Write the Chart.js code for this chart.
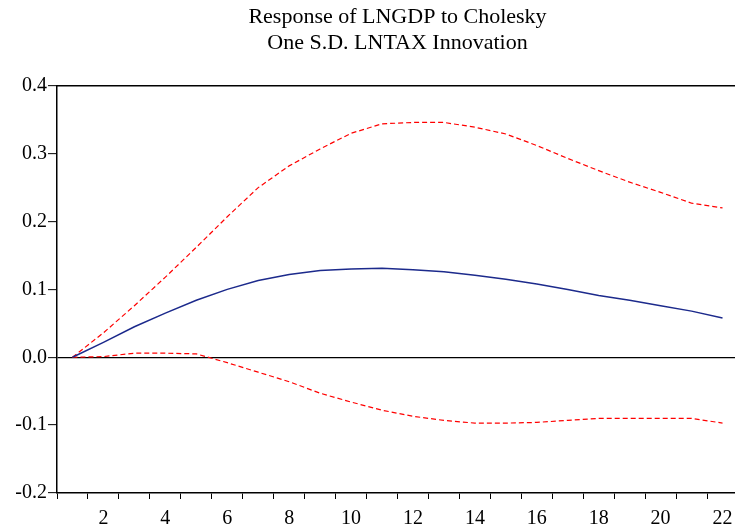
<!DOCTYPE html>
<html lang="en">
<head>
    <meta charset="UTF-8">
    <title>Response of LNGDP to Cholesky One S.D. LNTAX Innovation</title>
    <script src="https://cdn.jsdelivr.net/npm/chart.js"></script>
    <style>
        html, body { margin: 0; padding: 0; background: #fff; overflow: hidden; }
        #wrap { width: 742px; height: 529px; }
    </style>
</head>
<body>
    <div id="wrap">
        <canvas id="irfChart"></canvas>
    </div>
    <script>
    // periods 1..22
    const periods = ['1','2','3','4','5','6','7','8','9','10','11','12','13','14','15','16','17','18','19','20','21','22'];
    // point estimate of the impulse response
    const response = [0.000, 0.022, 0.045, 0.065, 0.084, 0.100, 0.113, 0.122, 0.128, 0.130, 0.131, 0.129, 0.126, 0.121, 0.115, 0.108, 0.100, 0.091, 0.084, 0.076, 0.068, 0.058];
    // +/- 2 S.E. bands
    const upperBand = [0.000, 0.036, 0.076, 0.118, 0.162, 0.207, 0.250, 0.282, 0.307, 0.330, 0.344, 0.346, 0.346, 0.339, 0.329, 0.312, 0.293, 0.275, 0.258, 0.243, 0.227, 0.220];
    const lowerBand = [0.000, 0.001, 0.006, 0.006, 0.005, -0.008, -0.022, -0.036, -0.053, -0.066, -0.078, -0.087, -0.093, -0.097, -0.097, -0.096, -0.093, -0.090, -0.090, -0.090, -0.090, -0.097];
    const titleLines = ['Response of LNGDP to Cholesky', 'One S.D. LNTAX Innovation'];

    const serif = 'Liberation Serif, Times New Roman, serif';
    Chart.defaults.font.family = serif;
    Chart.defaults.color = '#000';

    const ctx = document.getElementById('irfChart').getContext('2d');
    new Chart(ctx, {
        type: 'line',
        data: {
            labels: periods,
            datasets: [{
                label: 'Response',
                data: response,
                borderColor: '#1c2a8c',
                borderWidth: 1.5,
                pointRadius: 0,
                tension: 0,
                fill: false
            }, {
                label: 'Upper',
                data: upperBand,
                borderColor: '#ff0000',
                borderWidth: 1.2,
                borderDash: [5, 3],
                pointRadius: 0,
                tension: 0,
                fill: false
            }, {
                label: 'Lower',
                data: lowerBand,
                borderColor: '#ff0000',
                borderWidth: 1.2,
                borderDash: [5, 3],
                pointRadius: 0,
                tension: 0,
                fill: false
            }]
        },
        options: {
            responsive: true,
            maintainAspectRatio: false,
            animation: false,
            layout: { padding: { left: 0, right: 4, top: 0, bottom: 0 } },
            scales: {
                x: {
                    type: 'category',
                    offset: true,
                    grid: {
                        offset: true,
                        drawOnChartArea: false,
                        tickColor: '#000',
                        tickLength: 6,
                        tickWidth: 1
                    },
                    border: { color: '#000', width: 1.5 },
                    ticks: {
                        autoSkip: false,
                        maxRotation: 0,
                        padding: 8,
                        font: { size: 20 },
                        callback: function (val, i) {
                            const p = Number(periods[i]);
                            return p % 2 === 0 ? periods[i] : '';
                        }
                    },
                    afterFit: function (scale) { scale.height = 36; }
                },
                xTop: {
                    type: 'category',
                    position: 'top',
                    offset: true,
                    grid: { display: false },
                    ticks: { display: false },
                    border: { color: '#000', width: 1.5 },
                    afterFit: function (scale) { scale.height = 0; }
                },
                y: {
                    min: -0.2,
                    max: 0.4,
                    grid: {
                        color: function (c) { return c.tick && Math.abs(c.tick.value) < 1e-9 ? '#000' : 'rgba(0,0,0,0)'; },
                        lineWidth: 1.3,
                        tickColor: '#000',
                        tickLength: 9,
                        tickWidth: 1
                    },
                    border: { color: '#000', width: 1.5 },
                    ticks: {
                        stepSize: 0.1,
                        padding: 1,
                        font: { size: 20 },
                        callback: function (v) { return (Math.round(v * 10) / 10).toFixed(1); }
                    },
                    afterFit: function (scale) { scale.width = 57; }
                }
            },
            plugins: {
                legend: { display: false },
                tooltip: { enabled: false },
                title: {
                    display: true,
                    fullSize: false,
                    text: titleLines,
                    color: '#000',
                    font: { family: serif, size: 22, weight: 'normal', lineHeight: 1.2 },
                    padding: { top: 4, bottom: 29 }
                }
            }
        }
    });
    </script>
</body>
</html>
